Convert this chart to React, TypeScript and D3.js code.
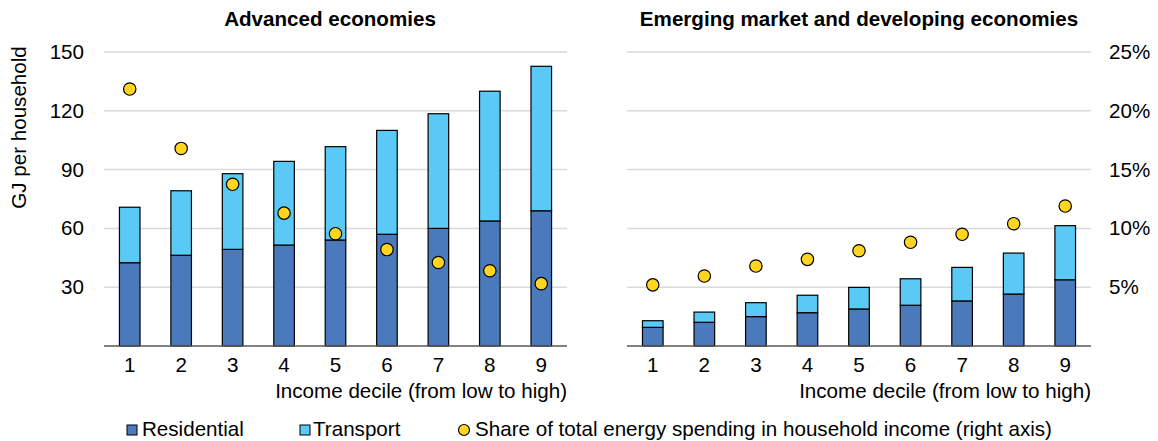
import React from "react";
import * as d3 from "d3";

const deciles = ["1", "2", "3", "4", "5", "6", "7", "8", "9"];

const advResidential = [42.5, 46.3, 49.3, 51.5, 54.1, 57.0, 60.0, 63.8, 69.0];
const advTransport = [28.3, 32.9, 38.6, 42.7, 47.6, 53.0, 58.5, 66.2, 73.7];
const advShare = [21.85, 16.8, 13.75, 11.3, 9.55, 8.2, 7.1, 6.4, 5.3];

const emdeResidential = [9.5, 12.1, 15.0, 17.0, 18.9, 20.8, 23.0, 26.5, 33.8];
const emdeTransport = [3.4, 5.2, 7.1, 8.9, 11.0, 13.5, 17.1, 20.9, 27.6];
const emdeShare = [5.2, 5.95, 6.8, 7.37, 8.1, 8.82, 9.5, 10.4, 11.9];

const leftTicks = [30, 60, 90, 120, 150];
const rightTicks = [5, 10, 15, 20, 25];

const titles = ["Advanced economies", "Emerging market and developing economies"];
const xTitle = "Income decile (from low to high)";
const yTitle = "GJ per household";
const legendLabels = [
  "Residential",
  "Transport",
  "Share of total energy spending in household income (right axis)",
];

const C_RES = "#4A7ABC";
const C_TRA = "#5BC9F5";
const C_DOT = "#FFD520";
const FONT = "Liberation Sans, Arial, sans-serif";
const FS = 20.6;

const yTop = 52;
const yBottom = 346;
const yGJ = d3.scaleLinear().domain([0, 150]).range([yBottom, yTop]);
const yPct = d3.scaleLinear().domain([0, 25]).range([yBottom, yTop]);

function Panel({
  x0,
  x1,
  res,
  tra,
  share,
  title,
  titleX,
}: {
  x0: number;
  x1: number;
  res: number[];
  tra: number[];
  share: number[];
  title: string;
  titleX: number;
}) {
  const x = d3.scaleBand<string>().domain(deciles).range([x0, x1]).paddingInner(0).paddingOuter(0);
  const bw = x.bandwidth() * 0.4;
  const stack = d3.stack<number>().keys(["r", "t"]).value((i, k) => (k === "r" ? res[i] : tra[i]));
  const series = stack(deciles.map((_, i) => i));
  const colors = [C_RES, C_TRA];
  return (
    <g>
      <text x={titleX} y={26} textAnchor="middle" fontFamily={FONT} fontSize={FS} fontWeight="bold" fill="#000">
        {title}
      </text>
      {leftTicks.map((t) => (
        <line key={t} x1={x0} x2={x1} y1={yGJ(t)} y2={yGJ(t)} stroke="#D9D9D9" strokeWidth={1.5} />
      ))}
      {series.map((s, si) =>
        s.map((d, i) => (
          <rect
            key={`${si}-${i}`}
            x={(x(deciles[i]) as number) + (x.bandwidth() - bw) / 2}
            y={yGJ(d[1])}
            width={bw}
            height={yGJ(d[0]) - yGJ(d[1])}
            fill={colors[si]}
            stroke="#000"
            strokeWidth={1.2}
          />
        ))
      )}
      <line x1={x0} x2={x1} y1={yBottom} y2={yBottom} stroke="#595959" strokeWidth={1.5} />
      {share.map((v, i) => (
        <circle
          key={i}
          cx={(x(deciles[i]) as number) + x.bandwidth() / 2}
          cy={yPct(v)}
          r={6.2}
          fill={C_DOT}
          stroke="#000"
          strokeWidth={1.2}
        />
      ))}
      {deciles.map((d) => (
        <text
          key={d}
          x={(x(d) as number) + x.bandwidth() / 2}
          y={372}
          textAnchor="middle"
          fontFamily={FONT}
          fontSize={FS}
          fill="#000"
        >
          {d}
        </text>
      ))}
      <text x={x1} y={398} textAnchor="end" fontFamily={FONT} fontSize={FS} fill="#000">
        {xTitle}
      </text>
    </g>
  );
}

export default function App() {
  return (
    <svg
      width={1158}
      height={441}
      style={{ position: "absolute", left: 0, top: 0, background: "#fff" }}
    >
      <rect x={0} y={0} width={1158} height={441} fill="#fff" />
      <Panel x0={104} x1={567} res={advResidential} tra={advTransport} share={advShare} title={titles[0]} titleX={330} />
      <Panel x0={627} x1={1091} res={emdeResidential} tra={emdeTransport} share={emdeShare} title={titles[1]} titleX={859} />
      {leftTicks.map((t) => (
        <text key={t} x={84} y={yGJ(t) + 7} textAnchor="end" fontFamily={FONT} fontSize={FS} fill="#000">
          {t}
        </text>
      ))}
      {rightTicks.map((t) => (
        <text key={t} x={1109} y={yPct(t) + 7} textAnchor="start" fontFamily={FONT} fontSize={FS} fill="#000">
          {t}%
        </text>
      ))}
      <text
        transform={`translate(26,127.5) rotate(-90)`}
        textAnchor="middle"
        fontFamily={FONT}
        fontSize={FS}
        fill="#000"
      >
        {yTitle}
      </text>
      <rect x={127} y={425} width={10} height={10} fill={C_RES} stroke="#000" strokeWidth={1} />
      <text x={142} y={436} fontFamily={FONT} fontSize={FS} fill="#000">
        {legendLabels[0]}
      </text>
      <rect x={300} y={425} width={10} height={10} fill={C_TRA} stroke="#000" strokeWidth={1} />
      <text x={313} y={436} fontFamily={FONT} fontSize={FS} fill="#000">
        {legendLabels[1]}
      </text>
      <circle cx={464} cy={430} r={5.5} fill={C_DOT} stroke="#000" strokeWidth={1.2} />
      <text x={475} y={436} fontFamily={FONT} fontSize={FS} fill="#000">
        {legendLabels[2]}
      </text>
    </svg>
  );
}
